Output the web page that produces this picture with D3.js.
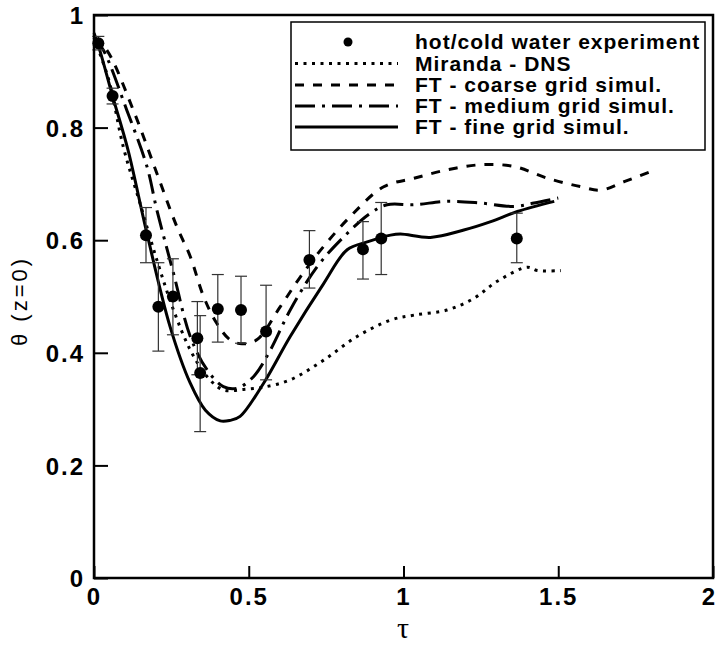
<!DOCTYPE html>
<html>
<head>
<meta charset="utf-8">
<script src="https://cdn.jsdelivr.net/npm/d3@7"></script>
<style>
  body { margin: 0; background: #fff; }
  svg text { font-family: "Liberation Sans", Arial, sans-serif; }
</style>
</head>
<body>
<script>
// experiment points (tau, theta, error bar top / bottom)
var expT  = [0.014, 0.060, 0.168, 0.208, 0.255, 0.334, 0.343, 0.400, 0.475, 0.556, 0.696, 0.869, 0.928, 1.366];
var expV  = [0.950, 0.856, 0.609, 0.482, 0.500, 0.426, 0.364, 0.478, 0.476, 0.438, 0.565, 0.584, 0.603, 0.603];
var expHi = [0.962, 0.870, 0.658, 0.560, 0.567, 0.491, 0.466, 0.539, 0.536, 0.520, 0.617, 0.633, 0.667, 0.648];
var expLo = [0.938, 0.842, 0.560, 0.403, 0.432, 0.361, 0.260, 0.419, 0.417, 0.352, 0.515, 0.531, 0.539, 0.560];

// Miranda - DNS
var mirT = [0, 0.02, 0.05, 0.095, 0.149, 0.203, 0.257, 0.311, 0.365, 0.418, 0.483, 0.548, 0.634, 0.742, 0.85, 0.958, 1.034, 1.141, 1.228, 1.303, 1.4, 1.433, 1.508];
var mirV = [0.96, 0.93, 0.88, 0.765, 0.665, 0.565, 0.476, 0.405, 0.358, 0.334, 0.335, 0.339, 0.352, 0.387, 0.429, 0.458, 0.467, 0.476, 0.497, 0.527, 0.552, 0.546, 0.546];

// FT coarse
var coarseT = [0, 0.041, 0.127, 0.203, 0.267, 0.311, 0.354, 0.397, 0.44, 0.478, 0.526, 0.602, 0.667, 0.742, 0.828, 0.936, 1.034, 1.141, 1.249, 1.357, 1.465, 1.573, 1.638, 1.713, 1.799];
var coarseV = [0.96, 0.938, 0.831, 0.719, 0.625, 0.571, 0.5, 0.452, 0.423, 0.416, 0.423, 0.482, 0.535, 0.589, 0.642, 0.695, 0.71, 0.725, 0.734, 0.731, 0.71, 0.695, 0.689, 0.704, 0.722];

// FT medium
var medT = [0, 0.03, 0.106, 0.171, 0.203, 0.257, 0.311, 0.365, 0.418, 0.462, 0.516, 0.57, 0.634, 0.721, 0.807, 0.893, 0.947, 1.034, 1.141, 1.249, 1.357, 1.422, 1.5];
var medV = [0.96, 0.938, 0.831, 0.731, 0.654, 0.541, 0.429, 0.37, 0.34, 0.337, 0.358, 0.405, 0.476, 0.553, 0.606, 0.648, 0.663, 0.663, 0.669, 0.666, 0.66, 0.666, 0.675];

// FT fine
var fineT = [0, 0.02, 0.06, 0.11, 0.171, 0.246, 0.311, 0.36, 0.408, 0.44, 0.472, 0.548, 0.634, 0.742, 0.818, 0.883, 0.958, 0.99, 1.087, 1.195, 1.282, 1.368, 1.487];
var fineV = [0.968, 0.935, 0.856, 0.76, 0.612, 0.446, 0.346, 0.298, 0.279, 0.28, 0.287, 0.346, 0.429, 0.523, 0.583, 0.597, 0.609, 0.611, 0.605, 0.618, 0.633, 0.651, 0.669];

var xTicks = [0, 0.5, 1, 1.5, 2];
var yTicks = [0, 0.2, 0.4, 0.6, 0.8, 1];
var legendLabels = ["hot/cold water experiment", "Miranda - DNS", "FT - coarse grid simul.", "FT - medium grid simul.", "FT - fine grid simul."];

var W = 718, H = 645;
var margin = {top: 15, right: 5, bottom: 67, left: 94};
var width = W - margin.left - margin.right,
    height = H - margin.top - margin.bottom;

var svg = d3.select("body").append("svg")
    .attr("width", W)
    .attr("height", H);

var g = svg.append("g")
    .attr("transform", "translate(" + margin.left + "," + margin.top + ")");

var x = d3.scaleLinear().domain([0, 2]).range([0, width]);
var y = d3.scaleLinear().domain([0, 1]).range([height, 0]);

// series definitions (styles live here, not in the data arrays)
var series = [
  {t: mirT, v: mirV, dash: "3,5.5", w: 3},
  {t: coarseT, v: coarseV, dash: "9,9", w: 3},
  {t: medT, v: medV, dash: "20,7,3,7", w: 3},
  {t: fineT, v: fineV, dash: null, w: 3}
];

var line = d3.line()
    .x(function(d) { return x(d[0]); })
    .y(function(d) { return y(d[1]); })
    .curve(d3.curveCatmullRom);

series.forEach(function(s) {
  g.append("path")
      .datum(d3.zip(s.t, s.v))
      .attr("fill", "none")
      .attr("stroke", "#000")
      .attr("stroke-width", s.w)
      .attr("stroke-dasharray", s.dash)
      .attr("d", line);
});

// error bars
var exp = expT.map(function(t, i) { return {t: t, v: expV[i], hi: expHi[i], lo: expLo[i]}; });
var eb = g.append("g").attr("stroke", "#333").attr("stroke-width", 1.2);
exp.forEach(function(d) {
  eb.append("line").attr("x1", x(d.t)).attr("x2", x(d.t)).attr("y1", y(d.hi)).attr("y2", y(d.lo));
  eb.append("line").attr("x1", x(d.t) - 6).attr("x2", x(d.t) + 6).attr("y1", y(d.hi)).attr("y2", y(d.hi));
  eb.append("line").attr("x1", x(d.t) - 6).attr("x2", x(d.t) + 6).attr("y1", y(d.lo)).attr("y2", y(d.lo));
});

g.selectAll("circle.pt")
    .data(exp)
    .enter().append("circle")
    .attr("class", "pt")
    .attr("cx", function(d) { return x(d.t); })
    .attr("cy", function(d) { return y(d.v); })
    .attr("r", 6)
    .attr("fill", "#000");

// axes
var xAxis = d3.axisBottom(x).tickValues(xTicks).tickSizeInner(-12).tickSizeOuter(0)
    .tickFormat(function(d) { return d3.format("")(d); });
var yAxis = d3.axisLeft(y).tickValues(yTicks).tickSizeInner(-14).tickSizeOuter(0)
    .tickFormat(function(d) { return d3.format("")(d); });

var gx = g.append("g")
    .attr("transform", "translate(0," + height + ")")
    .call(xAxis);
gx.select(".domain").remove();
gx.selectAll(".tick line").attr("stroke", "#000").attr("stroke-width", 2);
gx.selectAll(".tick text")
    .attr("y", 27)
    .attr("dy", 0)
    .attr("x", function(d) { return d === 2 ? -4 : 0; })
    .attr("fill", "#000")
    .style("font-size", "24px")
    .style("font-weight", "bold")
    .style("letter-spacing", "2px");

var gy = g.append("g").call(yAxis);
gy.select(".domain").remove();
gy.selectAll(".tick line").attr("stroke", "#000").attr("stroke-width", 2);
gy.selectAll(".tick text")
    .attr("x", -9)
    .attr("dy", "0.36em")
    .attr("fill", "#000")
    .style("font-size", "24px")
    .style("font-weight", "bold")
    .style("letter-spacing", "2px");

// frame
g.append("rect")
    .attr("x", 0).attr("y", 0)
    .attr("width", width).attr("height", height)
    .attr("fill", "none")
    .attr("stroke", "#000")
    .attr("stroke-width", 2.5);

// axis titles
svg.append("text")
    .attr("x", 403).attr("y", 638)
    .attr("text-anchor", "middle")
    .style("font-family", "'Liberation Serif', serif")
    .style("font-size", "30px")
    .text("τ");

svg.append("text")
    .attr("transform", "translate(27,301) rotate(-90)")
    .attr("text-anchor", "middle")
    .style("font-size", "22px")
    .style("letter-spacing", "3px")
    .text("θ (z=0)");

// legend
var lg = svg.append("g");
lg.append("rect")
    .attr("x", 291).attr("y", 22)
    .attr("width", 414).attr("height", 128)
    .attr("fill", "#fff")
    .attr("stroke", "#000")
    .attr("stroke-width", 1.5);

var rowY = [42, 63.5, 85, 106, 127];
lg.append("circle").attr("cx", 348).attr("cy", rowY[0]).attr("r", 4.5).attr("fill", "#000");
series.forEach(function(s, i) {
  lg.append("line")
      .attr("x1", 295).attr("x2", 398)
      .attr("y1", rowY[i + 1]).attr("y2", rowY[i + 1])
      .attr("stroke", "#000")
      .attr("stroke-width", s.w)
      .attr("stroke-dasharray", s.dash);
});
lg.selectAll("text.lab")
    .data(legendLabels)
    .enter().append("text")
    .attr("class", "lab")
    .attr("x", 415)
    .attr("y", function(d, i) { return rowY[i] + 7; })
    .style("font-size", "21px")
    .style("font-weight", "bold")
    .style("letter-spacing", "1px")
    .text(function(d) { return d; });
</script>
</body>
</html>
